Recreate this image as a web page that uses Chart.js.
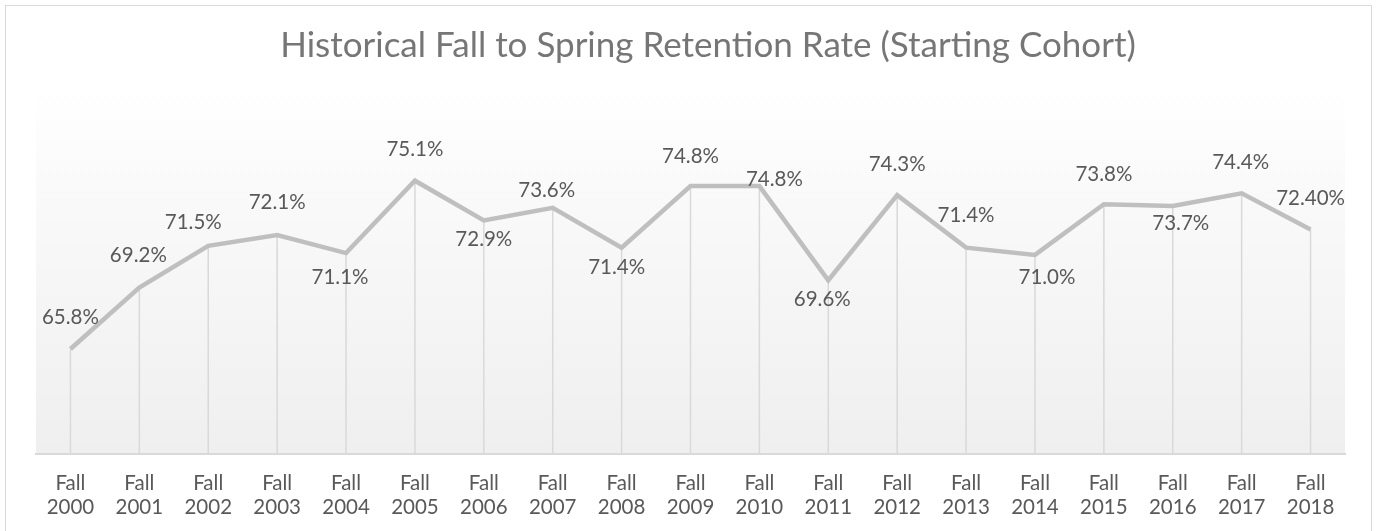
<!DOCTYPE html>
<html>
<head>
<meta charset="utf-8">
<script src="https://cdn.jsdelivr.net/npm/chart.js@4.4.1/dist/chart.umd.min.js"></script>
<style>
  html, body { margin: 0; padding: 0; background: #fff; }
  #wrap { position: relative; width: 1377px; height: 531px; }
</style>
</head>
<body>
<div id="wrap"><canvas id="myChart"></canvas></div>
<script>
const chartTitle = 'Historical Fall to Spring Retention Rate (Starting Cohort)';
const years = ['2000', '2001', '2002', '2003', '2004', '2005', '2006', '2007', '2008', '2009',
  '2010', '2011', '2012', '2013', '2014', '2015', '2016', '2017', '2018'];
const rates = [65.8, 69.2, 71.5, 72.1, 71.1, 75.1, 72.9, 73.6, 71.4, 74.8,
  74.8, 69.6, 74.3, 71.4, 71.0, 73.8, 73.7, 74.4, 72.4];
const rateLabels = ['65.8%', '69.2%', '71.5%', '72.1%', '71.1%', '75.1%', '72.9%', '73.6%', '71.4%', '74.8%',
  '74.8%', '69.6%', '74.3%', '71.4%', '71.0%', '73.8%', '73.7%', '74.4%', '72.40%'];

// where each value label sits relative to its point (dx, dy of label centre)
const labelOffsets = [[0, -33], [-1, -33], [-15, -24], [0, -33], [-6, 23], [0, -32], [0, 18], [-6, -18],
  [-5, 19], [0, -31], [15, -8], [-6, 18], [0, -32], [0, -33], [12, 22], [0, -31], [8, 16], [-1, -32], [0, -32]];

const FONT = 'Lato, "Open Sans", sans-serif';

const decorPlugin = {
  id: 'decor',
  beforeDraw(chart) {
    const {ctx, chartArea} = chart;
    ctx.save();
    ctx.fillStyle = '#fff';
    ctx.fillRect(0, 0, chart.width, chart.height);
    ctx.strokeStyle = '#d9d9d9';
    ctx.lineWidth = 1;
    ctx.strokeRect(5.5, 5.5, 1366, 600);
    const g = ctx.createLinearGradient(0, chartArea.top, 0, chartArea.bottom);
    g.addColorStop(0, '#ffffff');
    g.addColorStop(0.25, '#fafafa');
    g.addColorStop(1, '#efefef');
    ctx.fillStyle = g;
    ctx.fillRect(chartArea.left, chartArea.top, chartArea.right - chartArea.left, chartArea.bottom - chartArea.top);

    ctx.fillStyle = '#767676';
    ctx.font = '35px ' + FONT;
    ctx.textAlign = 'center';
    ctx.textBaseline = 'alphabetic';
    ctx.fillText(chartTitle, 708, 57);
    ctx.restore();
  },
  beforeDatasetsDraw(chart) {
    const {ctx, chartArea} = chart;
    const meta = chart.getDatasetMeta(0);
    ctx.save();
    ctx.strokeStyle = '#d9d9d9';
    ctx.lineWidth = 1.5;
    meta.data.forEach(pt => {
      ctx.beginPath();
      ctx.moveTo(pt.x, pt.y);
      ctx.lineTo(pt.x, chartArea.bottom);
      ctx.stroke();
    });
    ctx.restore();
  },
  afterDatasetsDraw(chart) {
    const {ctx} = chart;
    const meta = chart.getDatasetMeta(0);
    ctx.save();
    ctx.fillStyle = '#595959';
    ctx.font = '20.5px ' + FONT;
    ctx.textAlign = 'center';
    ctx.textBaseline = 'alphabetic';
    meta.data.forEach((pt, i) => {
      const off = labelOffsets[i];
      ctx.fillText(rateLabels[i], pt.x + off[0], pt.y + off[1] + 7.5);
    });
    ctx.restore();
  }
};

function initChart() {
  const ctx = document.getElementById('myChart').getContext('2d');
  return new Chart(ctx, {
    type: 'line',
    data: {
      labels: years.map(y => ['Fall', y]),
      datasets: [{
        label: 'Retention rate',
        data: rates,
        borderColor: '#bfbfbf',
        borderWidth: 4.5,
        borderJoinStyle: 'miter',
        pointRadius: 0,
        pointHoverRadius: 0,
        tension: 0,
        clip: false
      }]
    },
    options: {
      responsive: true,
      maintainAspectRatio: false,
      animation: false,
      devicePixelRatio: 1,
      layout: {padding: {top: 92, left: 36, right: 32, bottom: 0}},
      plugins: {
        legend: {display: false},
        title: {display: false},
        tooltip: {enabled: false}
      },
      scales: {
        x: {
          offset: true,
          grid: {display: false, drawTicks: false},
          border: {display: true, color: '#d9d9d9', width: 2},
          ticks: {
            color: '#595959',
            font: {family: FONT, size: 20.5, lineHeight: 1.17},
            padding: 17,
            maxRotation: 0,
            autoSkip: false
          },
          afterFit(scale) { scale.height = 77; }
        },
        y: {
          display: false,
          min: 60,
          max: 80
        }
      }
    },
    plugins: [decorPlugin]
  });
}

initChart();
</script>
</body>
</html>
